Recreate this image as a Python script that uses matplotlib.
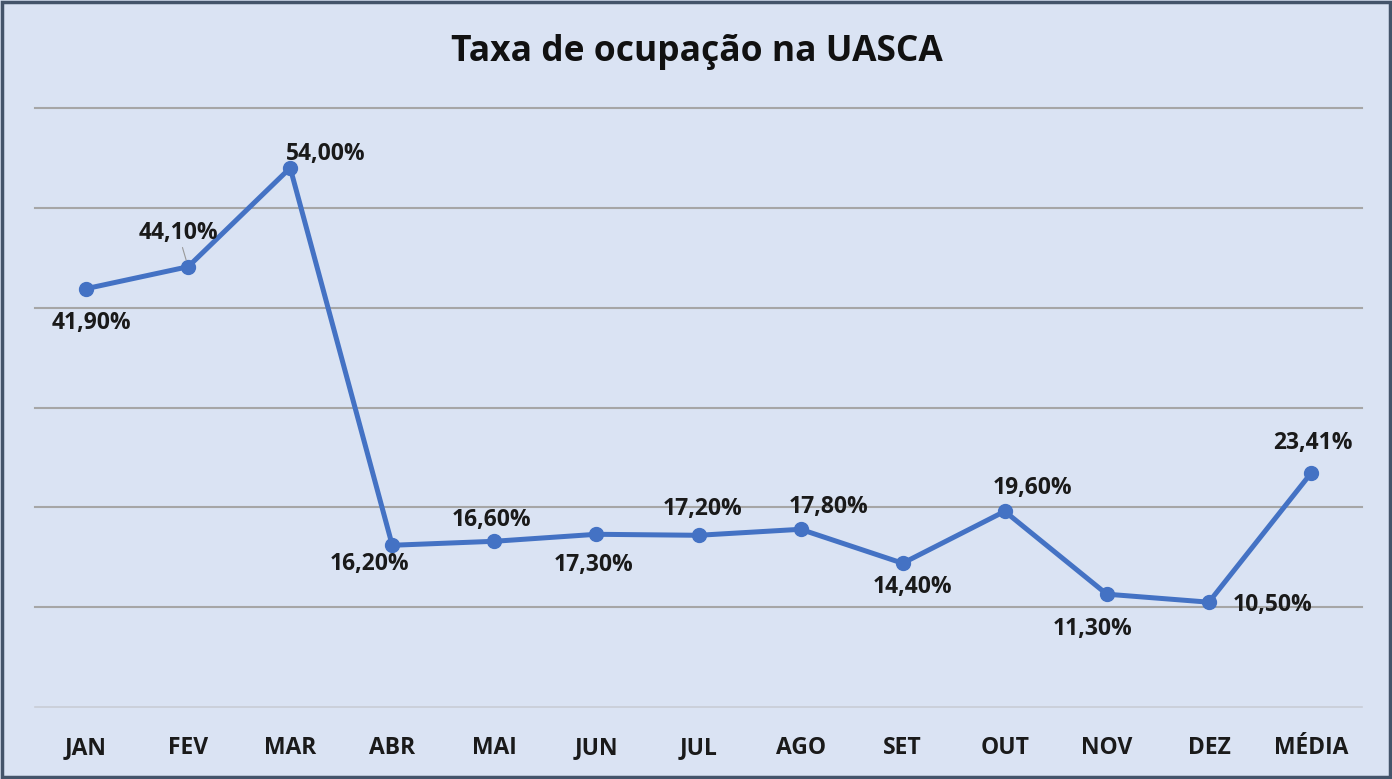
import matplotlib.pyplot as plt

meses = ['JAN', 'FEV', 'MAR', 'ABR', 'MAI', 'JUN', 'JUL', 'AGO', 'SET', 'OUT', 'NOV', 'DEZ', 'MÉDIA']
taxa = [41.90, 44.10, 54.00, 16.20, 16.60, 17.30, 17.20, 17.80, 14.40, 19.60, 11.30, 10.50, 23.41]

# label offsets in pixels (dx, dy) relative to each point
offsets = [(5, -34), (-10, 34), (36, 14), (-23, -19), (-3, 21), (-3, -31), (4, 26), (28, 22),
           (10, -24), (28, 23), (-14, -35), (64, -3), (2, 30)]

bg = '#DAE3F3'
plt.rcParams['font.family'] = ['Open Sans', 'DejaVu Sans']

fig = plt.figure(figsize=(13.92, 7.79), dpi=100, facecolor=bg)
ax = fig.add_axes([35 / 1392, 1 - 707 / 779, 1327 / 1392, 599 / 779])
ax.set_facecolor(bg)

x = list(range(len(meses)))
ax.set_xlim(-0.5, len(meses) - 0.5)
ax.set_ylim(0, 60)

for v in [10, 20, 30, 40, 50, 60]:
    ax.axhline(v, color='#A6A6A6', lw=1.5, zorder=1, clip_on=False)
ax.axhline(0, color='#C9CDD6', lw=1.2, zorder=1, clip_on=False)

ax.plot(x, taxa, color='#4472C4', lw=3.6, marker='o', markersize=10, zorder=3)

for i, v in enumerate(taxa):
    dx, dy = offsets[i]
    label = f'{v:.2f}%'.replace('.', ',')
    kw = {}
    if meses[i] == 'FEV':
        kw['arrowprops'] = dict(arrowstyle='-', color='#999999', lw=0.8, shrinkA=0, shrinkB=5)
    ax.annotate(label, (i, v), xytext=(dx, dy), textcoords='offset pixels',
                ha='center', va='center', fontsize=16.5, fontweight='bold', color='#1a1a1a', **kw)

ax.set_xticks(x)
ax.set_xticklabels(meses, fontsize=16.5, fontweight='bold', color='#1a1a1a')
ax.tick_params(axis='x', length=0, pad=21)
ax.set_yticks([])
for s in ax.spines.values():
    s.set_visible(False)

fig.text(697 / 1392, 1 - 52 / 779, 'Taxa de ocupação na UASCA', ha='center', va='center',
         fontsize=25.5, fontweight='bold', color='#111111')

# outer border
fig.patches.append(plt.Rectangle((0.0015, 0.002), 0.997, 0.995, transform=fig.transFigure,
                                 fill=False, edgecolor='#44546A', lw=2.5))

fig.savefig('out.png', dpi=100, facecolor=bg)
